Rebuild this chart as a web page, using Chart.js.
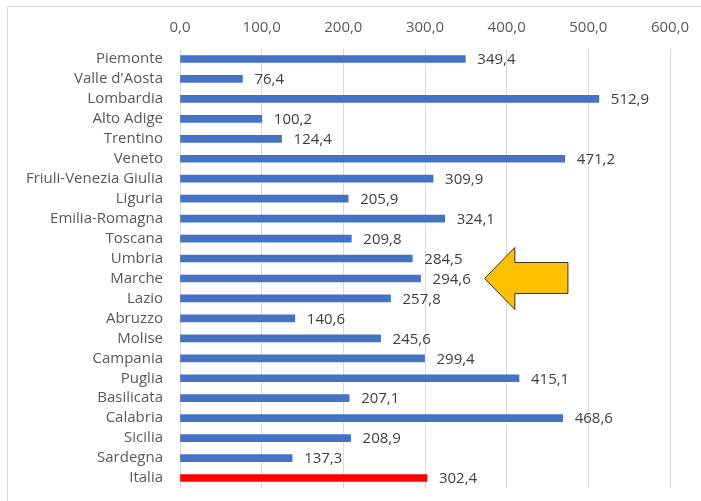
<!DOCTYPE html>
<html>
<head>
<meta charset="utf-8">
<script src="https://cdn.jsdelivr.net/npm/chart.js@4"></script>
<style>
  html, body { margin: 0; padding: 0; background: #fff; overflow: hidden; }
  #wrap { position: relative; width: 701px; height: 501px; }
  #frame { position: absolute; left: 7px; top: 6px; width: 720px; height: 520px; border: 1px solid #d9d9d9; box-sizing: border-box; }
  canvas { position: absolute; left: 0; top: 0; }
</style>
</head>
<body>
<div id="wrap">
  <div id="frame"></div>
  <canvas id="regionChart" width="701" height="501"></canvas>
</div>
<script>
const regions = ["Piemonte", "Valle d'Aosta", "Lombardia", "Alto Adige", "Trentino", "Veneto",
  "Friuli-Venezia Giulia", "Liguria", "Emilia-Romagna", "Toscana", "Umbria", "Marche", "Lazio",
  "Abruzzo", "Molise", "Campania", "Puglia", "Basilicata", "Calabria", "Sicilia", "Sardegna", "Italia"];
const values = [349.4, 76.4, 512.9, 100.2, 124.4, 471.2, 309.9, 205.9, 324.1, 209.8, 284.5, 294.6,
  257.8, 140.6, 245.6, 299.4, 415.1, 207.1, 468.6, 208.9, 137.3, 302.4];
const xTicks = [0, 100, 200, 300, 400, 500, 600];
const highlighted = "Marche";

const fmt = (v) => v.toFixed(1).replace(".", ",");
const FONT = "'Open Sans'";

// etichette dei valori a destra delle barre
const valueLabels = {
  id: "valueLabels",
  afterDatasetsDraw(chart) {
    const ctx = chart.ctx;
    const meta = chart.getDatasetMeta(0);
    ctx.save();
    ctx.font = "15px " + FONT;
    ctx.fillStyle = "#404040";
    ctx.textAlign = "left";
    ctx.textBaseline = "middle";
    meta.data.forEach((bar, i) => {
      ctx.fillText(fmt(values[i]), bar.x + 12, bar.y + 1);
    });
    ctx.restore();
  },
};

// freccia gialla che indica la Marche
const arrowPlugin = {
  id: "arrow",
  afterDraw(chart) {
    const xs = chart.scales.x, ys = chart.scales.y;
    const yc = ys.getPixelForValue(regions.indexOf(highlighted));
    const tip = xs.getPixelForValue(373);
    const base = xs.getPixelForValue(410);
    const end = xs.getPixelForValue(475);
    const ctx = chart.ctx;
    ctx.save();
    ctx.beginPath();
    ctx.moveTo(tip, yc);
    ctx.lineTo(base, yc - 31);
    ctx.lineTo(base, yc - 16);
    ctx.lineTo(end, yc - 16);
    ctx.lineTo(end, yc + 15);
    ctx.lineTo(base, yc + 15);
    ctx.lineTo(base, yc + 31);
    ctx.closePath();
    ctx.fillStyle = "#ffc000";
    ctx.fill();
    ctx.strokeStyle = "#3a3020";
    ctx.lineWidth = 1;
    ctx.stroke();
    ctx.restore();
  },
};

const ctx = document.getElementById("regionChart").getContext("2d");
new Chart(ctx, {
  type: "bar",
  data: {
    labels: regions,
    datasets: [{
      data: values,
      backgroundColor: regions.map((r) => (r === "Italia" ? "#ff0000" : "#4472c4")),
      barThickness: 7,
    }],
  },
  options: {
    indexAxis: "y",
    responsive: false,
    animation: false,
    layout: { padding: { left: 0, right: 31, top: 1, bottom: 13 } },
    plugins: { legend: { display: false }, tooltip: { enabled: false } },
    scales: {
      x: {
        position: "top",
        min: 0,
        max: 600,
        afterBuildTicks: (axis) => { axis.ticks = xTicks.map((v) => ({ value: v })); },
        afterFit: (axis) => { axis.height = 48; axis.paddingLeft = 0; axis.paddingRight = 0; },
        grid: { color: "#d9d9d9", drawTicks: false },
        border: { display: false },
        ticks: {
          padding: 12,
          color: "#595959",
          font: { family: FONT, size: 15 },
          callback: (v) => fmt(v),
        },
      },
      y: {
        afterFit: (axis) => { axis.width = 180; axis.paddingTop = 0; axis.paddingBottom = 0; },
        grid: { display: false, drawTicks: false },
        border: { display: false },
        ticks: {
          padding: 17,
          color: "#595959",
          font: { family: FONT, size: 15 },
          autoSkip: false,
        },
      },
    },
  },
  plugins: [valueLabels, arrowPlugin],
});
</script>
</body>
</html>
